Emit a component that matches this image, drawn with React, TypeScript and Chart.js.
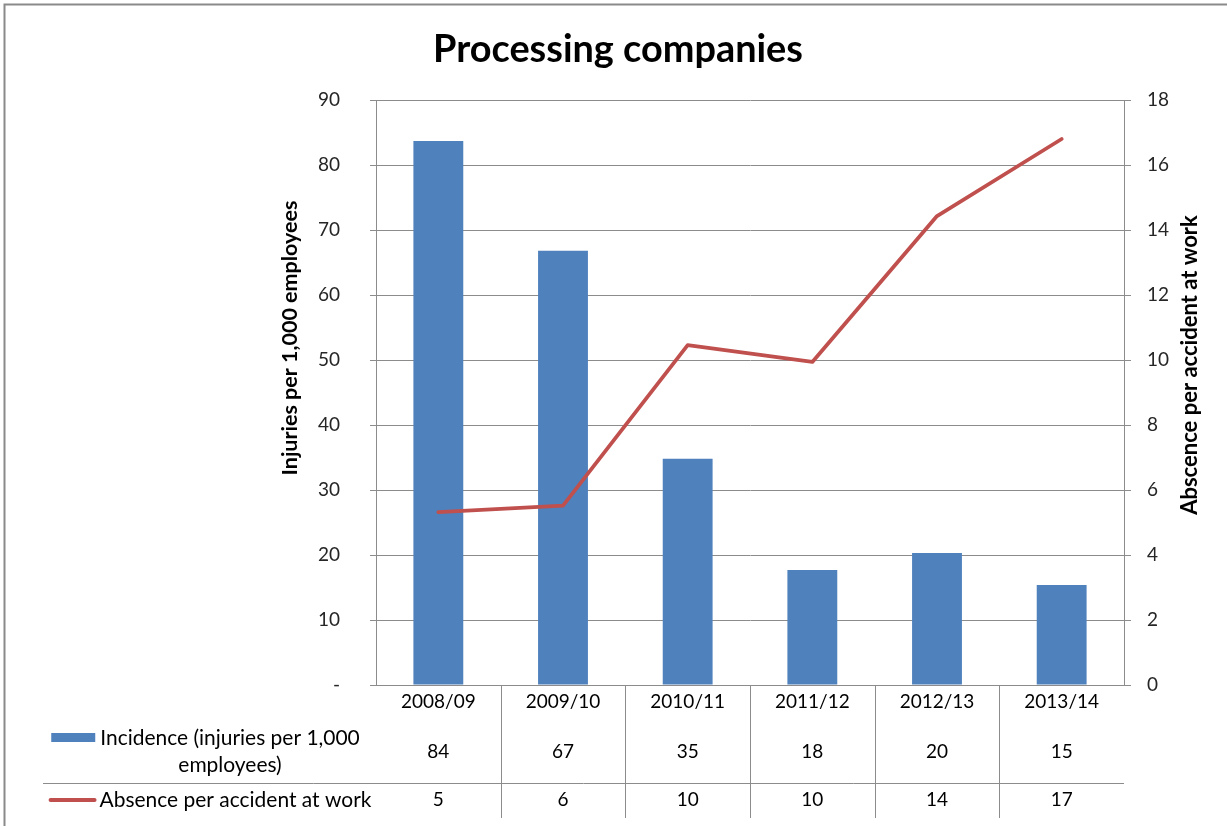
import { useEffect, useRef } from 'react';
import { Chart, registerables } from 'chart.js';

Chart.register(...registerables);

const FONT = "Lato, 'Open Sans', sans-serif";

const chartTitle = 'Processing companies';
const categories = ['2008/09', '2009/10', '2010/11', '2011/12', '2012/13', '2013/14'];
// Incidence: injuries per 1,000 employees (left axis)
const incidence = [83.7, 66.8, 34.8, 17.7, 20.3, 15.4];
// Average absence per accident at work (right axis)
const absence = [5.32, 5.52, 10.46, 9.94, 14.43, 16.8];

const incidenceLabel = ['Incidence (injuries per 1,000', 'employees)'];
const absenceLabel = 'Absence per accident at work';
const leftAxisTitle = 'Injuries per 1,000 employees';
const rightAxisTitle = 'Abscence per accident at work';

const BAR_COLOR = '#4F81BD';
const LINE_COLOR = '#C0504D';
const GRID_COLOR = '#8C8C8C';
const TEXT_COLOR = '#262626';
const TICK_SIZE = 19;

// font size (px) at which `text` spans `width` pixels
function sizeForWidth(ctx: CanvasRenderingContext2D, text: string, width: number, weight: string) {
  ctx.font = `${weight} 100px ${FONT}`;
  return (100 * width) / ctx.measureText(text).width;
}

// Draws the frame, title, rotated axis titles and the data table under the plot.
const decorPlugin = {
  id: 'decor',
  afterDraw(chart: any) {
    const { ctx, chartArea, scales } = chart;
    const x = scales.x;
    ctx.save();

    // frame
    ctx.strokeStyle = '#8A8A8A';
    ctx.lineWidth = 2;
    ctx.beginPath();
    ctx.moveTo(4.5, chart.height);
    ctx.lineTo(4.5, 4.5);
    ctx.lineTo(chart.width, 4.5);
    ctx.stroke();

    ctx.fillStyle = '#000';
    ctx.textAlign = 'center';
    ctx.textBaseline = 'middle';

    // title
    const ts = Math.min(40, sizeForWidth(ctx, chartTitle, 370, 'bold'));
    ctx.font = `bold ${ts}px ${FONT}`;
    ctx.fillText(chartTitle, 618, 50);

    // axis titles
    const ls = Math.min(22, sizeForWidth(ctx, leftAxisTitle, 275, 'bold'));
    ctx.font = `bold ${ls}px ${FONT}`;
    ctx.save();
    ctx.translate(290, 338);
    ctx.rotate(-Math.PI / 2);
    ctx.fillText(leftAxisTitle, 0, 0);
    ctx.restore();
    const rs = Math.min(22, sizeForWidth(ctx, rightAxisTitle, 330, 'bold'));
    ctx.font = `bold ${rs}px ${FONT}`;
    ctx.save();
    ctx.translate(1190, 365);
    ctx.rotate(-Math.PI / 2);
    ctx.fillText(rightAxisTitle, 0, 0);
    ctx.restore();

    // data table grid
    const top = chartArea.bottom;
    const tableBottom = 818;
    const rowSplit = 783.5;
    ctx.strokeStyle = GRID_COLOR;
    ctx.lineWidth = 1;
    ctx.beginPath();
    ctx.moveTo(43, rowSplit);
    ctx.lineTo(chartArea.right, rowSplit);
    for (let i = 1; i < categories.length; i++) {
      const bx = Math.round((x.getPixelForValue(i - 1) + x.getPixelForValue(i)) / 2) + 0.5;
      ctx.moveTo(bx, top);
      ctx.lineTo(bx, tableBottom);
    }
    ctx.stroke();

    // table values
    ctx.font = `${TICK_SIZE}px ${FONT}`;
    ctx.fillStyle = '#000';
    categories.forEach((_, i) => {
      const cx = x.getPixelForValue(i);
      ctx.fillText(String(Math.round(incidence[i])), cx, 752);
      ctx.fillText(String(Math.round(absence[i])), cx, 800);
    });

    // row headers with legend keys
    const hs = Math.min(21, sizeForWidth(ctx, absenceLabel, 272, 'normal'));
    ctx.font = `${hs}px ${FONT}`;
    const labelCenter = 230;
    ctx.fillText(incidenceLabel[0], labelCenter, 738);
    ctx.fillText(incidenceLabel[1], labelCenter, 765);
    const w1 = ctx.measureText(incidenceLabel[0]).width;
    const key1Right = labelCenter - w1 / 2 - 5;
    ctx.fillStyle = BAR_COLOR;
    ctx.fillRect(key1Right - 44, 733, 44, 9);

    ctx.fillStyle = '#000';
    const absCenter = 235.5;
    ctx.fillText(absenceLabel, absCenter, 800);
    const w2 = ctx.measureText(absenceLabel).width;
    const key2Right = absCenter - w2 / 2 - 5;
    ctx.strokeStyle = LINE_COLOR;
    ctx.lineWidth = 4;
    ctx.lineCap = 'round';
    ctx.beginPath();
    ctx.moveTo(key2Right - 44, 800);
    ctx.lineTo(key2Right, 800);
    ctx.stroke();

    ctx.restore();
  },
};

export default function App() {
  const canvasRef = useRef<HTMLCanvasElement | null>(null);

  useEffect(() => {
    const canvas = canvasRef.current;
    if (!canvas) return;
    const chart = new Chart(canvas, {
      type: 'bar',
      data: {
        labels: categories,
        datasets: [
          {
            type: 'line',
            label: absenceLabel,
            data: absence,
            yAxisID: 'y1',
            borderColor: LINE_COLOR,
            backgroundColor: LINE_COLOR,
            borderWidth: 3.8,
            pointRadius: 0,
            tension: 0,
            borderJoinStyle: 'round',
            borderCapStyle: 'round',
            order: 0,
          } as any,
          {
            type: 'bar',
            label: incidenceLabel.join(' '),
            data: incidence,
            yAxisID: 'y',
            backgroundColor: BAR_COLOR,
            barPercentage: 0.4,
            categoryPercentage: 1,
            order: 1,
          },
        ],
      },
      options: {
        responsive: false,
        animation: false,
        layout: { padding: { top: 100, left: 0, right: 0, bottom: 0 } },
        plugins: {
          legend: { display: false },
          tooltip: { enabled: false },
          title: { display: false },
        },
        scales: {
          x: {
            grid: { display: false },
            border: { display: true, color: GRID_COLOR },
            ticks: {
              color: '#000',
              font: { family: FONT, size: TICK_SIZE },
              padding: -3,
              maxRotation: 0,
            },
            afterFit: (s: any) => {
              s.height = 141;
            },
          },
          y: {
            position: 'left',
            min: 0,
            max: 90,
            ticks: {
              stepSize: 10,
              color: TEXT_COLOR,
              font: { family: FONT, size: TICK_SIZE },
              padding: 30,
              callback: (v: any) => (Number(v) === 0 ? '-' : String(v)),
            },
            grid: { color: GRID_COLOR, tickLength: 6, tickColor: GRID_COLOR },
            border: { display: true, color: GRID_COLOR },
            afterFit: (s: any) => {
              s.width = 376;
            },
          },
          y1: {
            position: 'right',
            min: 0,
            max: 18,
            ticks: {
              stepSize: 2,
              color: TEXT_COLOR,
              font: { family: FONT, size: TICK_SIZE },
              padding: 16,
            },
            grid: { drawOnChartArea: false, tickLength: 7, color: GRID_COLOR },
            border: { display: true, color: GRID_COLOR },
            afterFit: (s: any) => {
              s.width = 103;
            },
          },
        },
      } as any,
      plugins: [decorPlugin],
    });
    return () => chart.destroy();
  }, []);

  return (
    <div
      style={{
        position: 'fixed',
        left: 0,
        top: 0,
        width: 1227,
        height: 826,
        background: '#fff',
      }}
    >
      <canvas ref={canvasRef} width={1227} height={826} style={{ display: 'block' }} />
    </div>
  );
}
